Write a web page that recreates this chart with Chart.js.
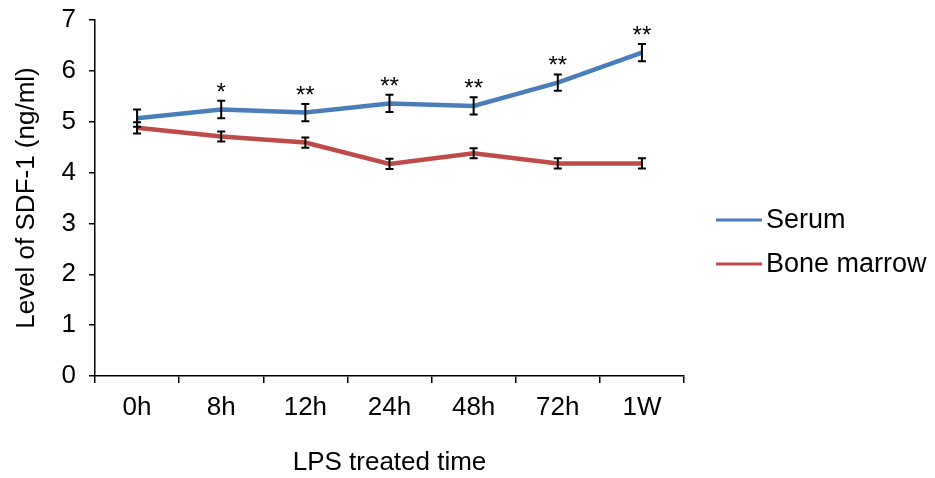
<!DOCTYPE html>
<html>
<head>
<meta charset="utf-8">
<script src="https://cdn.jsdelivr.net/npm/chart.js@4"></script>
<style>
  html, body { margin: 0; padding: 0; background: #fff; }
  #wrap { width: 935px; height: 478px; }
</style>
</head>
<body>
<div id="wrap"><canvas id="grafico" width="935" height="478"></canvas></div>
<script>
const categorias = ["0h", "8h", "12h", "24h", "48h", "72h", "1W"];
const serum = [5.07, 5.24, 5.18, 5.36, 5.31, 5.77, 6.36];
const serumErr = [0.17, 0.17, 0.17, 0.17, 0.17, 0.16, 0.17];
const medula = [4.88, 4.71, 4.59, 4.17, 4.38, 4.18, 4.18];
const medulaErr = [0.11, 0.10, 0.10, 0.10, 0.10, 0.10, 0.10];
const signif = ["", "*", "**", "**", "**", "**", "**"];

const FUENTE = "'Liberation Sans', Arial, sans-serif";

// --- barras de error + asteriscos ---
const errorBars = {
  id: "errorBars",
  afterDatasetsDraw(chart) {
    const ctx = chart.ctx;
    const y = chart.scales.y;
    ctx.save();
    ctx.strokeStyle = "#000";
    ctx.lineWidth = 2;
    chart.data.datasets.forEach((ds, i) => {
      const meta = chart.getDatasetMeta(i);
      meta.data.forEach((pt, j) => {
        const v = ds.data[j], e = ds.err[j];
        const yTop = y.getPixelForValue(v + e);
        const yBot = y.getPixelForValue(v - e);
        ctx.beginPath();
        ctx.moveTo(pt.x, yTop); ctx.lineTo(pt.x, yBot);
        ctx.moveTo(pt.x - 4, yTop); ctx.lineTo(pt.x + 4, yTop);
        ctx.moveTo(pt.x - 4, yBot); ctx.lineTo(pt.x + 4, yBot);
        ctx.stroke();
        if (i === 0 && signif[j]) {
          ctx.fillStyle = "#000";
          ctx.font = "24px " + FUENTE;
          ctx.textAlign = "center";
          ctx.textBaseline = "alphabetic";
          ctx.fillText(signif[j], pt.x, yTop - 1);
        }
      });
    });
    ctx.restore();
  }
};

// --- leyenda a la derecha ---
const leyenda = {
  id: "leyenda",
  afterDraw(chart) {
    const ctx = chart.ctx;
    ctx.save();
    ctx.font = "27px " + FUENTE;
    ctx.textBaseline = "middle";
    ctx.textAlign = "left";
    chart.data.datasets.forEach((ds, i) => {
      const yy = 220 + i * 44;
      ctx.strokeStyle = ds.borderColor;
      ctx.lineWidth = 3;
      ctx.beginPath();
      ctx.moveTo(716, yy); ctx.lineTo(762, yy);
      ctx.stroke();
      ctx.fillStyle = "#000";
      ctx.fillText(ds.label, 766, yy + 1);
    });
    ctx.restore();
  }
};

new Chart(document.getElementById("grafico"), {
  type: "line",
  data: {
    labels: categorias,
    datasets: [
      { label: "Serum", data: serum, err: serumErr, borderColor: "#4A7EBB", borderWidth: 4.5, pointRadius: 0, tension: 0 },
      { label: "Bone marrow", data: medula, err: medulaErr, borderColor: "#BE4B48", borderWidth: 4.5, pointRadius: 0, tension: 0 }
    ]
  },
  options: {
    responsive: false,
    animation: false,
    layout: { padding: { top: 20, right: 251, bottom: 0, left: 0 } },
    plugins: { legend: { display: false }, tooltip: { enabled: false } },
    scales: {
      x: {
        offset: true,
        grid: { offset: true, drawOnChartArea: false, color: "#000", lineWidth: 1.5, tickLength: 7 },
        border: { color: "#000", width: 1.5 },
        ticks: { color: "#000", font: { family: FUENTE, size: 26 }, padding: 9 },
        title: { display: true, text: "LPS treated time", color: "#000", font: { family: FUENTE, size: 26 }, padding: { top: 0, bottom: 0 } },
        afterFit(s) { s.height = 102; }
      },
      y: {
        min: 0, max: 7,
        ticks: { stepSize: 1, color: "#000", font: { family: FUENTE, size: 26 }, padding: 13 },
        grid: { drawOnChartArea: false, color: "#000", lineWidth: 1.5, tickLength: 6 },
        border: { color: "#000", width: 1.5 },
        title: { display: true, text: "Level of SDF-1 (ng/ml)", color: "#000", font: { family: FUENTE, size: 26 }, padding: { top: 11, bottom: 0 } },
        afterFit(s) { s.width = 95; s.paddingTop = 0; s.paddingBottom = 0; }
      }
    }
  },
  plugins: [errorBars, leyenda]
});
</script>
</body>
</html>
